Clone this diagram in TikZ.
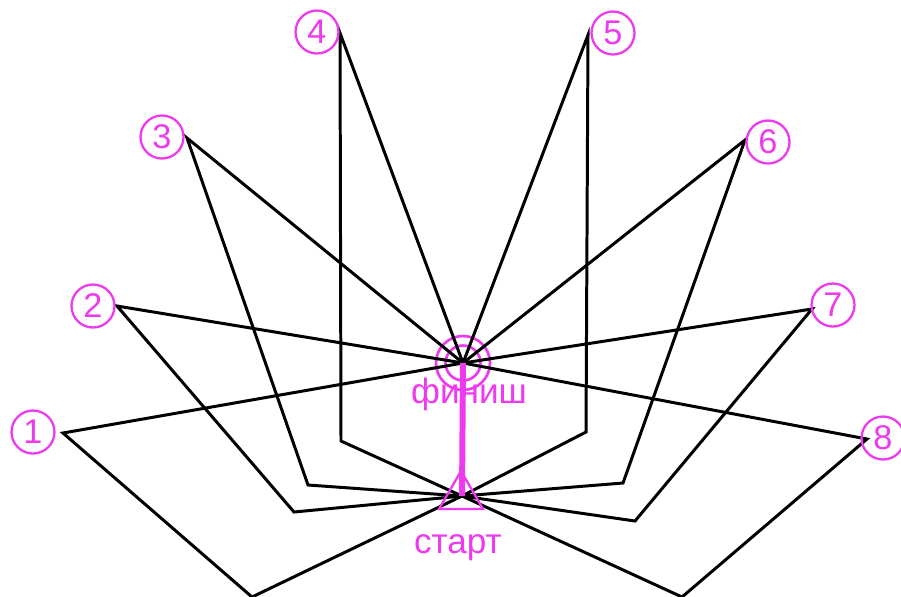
\documentclass[tikz,border=0pt]{standalone}
\usepackage{fontspec}
\setmainfont{Liberation Sans}
\definecolor{mag}{RGB}{238,58,238}
\tikzset{
  route/.style={line width=1.7pt, black, line join=miter},
  numb/.style={circle, draw=mag, line width=1.3pt, text=mag, minimum size=0.86cm, inner sep=0pt, font=\fontsize{19.5}{19.5}\selectfont},
  ring/.style={circle, draw=mag, line width=1.5pt, inner sep=0pt},
  lbl/.style={text=mag, inner sep=0pt, anchor=base, font=\fontsize{20}{20}\selectfont},
  rod/.style={mag, line width=3.4pt},
}

\begin{document}
\begin{tikzpicture}[x=0.02cm, y=-0.02cm]
  \useasboundingbox (0,0) rectangle (901,596);

  % start and finish
  \coordinate (start) at (462,496);
  \node[ring, minimum size=1.08cm] (finish) at (463,363) {};
  \node[ring, minimum size=0.7cm] (finishin) at (finish.center) {};

  % turning points and far points of each leg
  \foreach \i/\tx/\ty/\px/\py in {1/252/597/63/433, 2/294/512/117/306, 3/308/485/187/138, 4/341/441/340/33,
                                  5/586/432/588/35, 6/623/483/745/140, 7/635/521/812/309, 8/682/597/867/439}{
    \coordinate (t\i) at (\tx,\ty);
    \coordinate (p\i) at (\px,\py);
  }

  \foreach \i in {1,...,8}
    \draw[route] (start) -- (t\i) -- (p\i) -- (finish.center);

  % checkpoints
  \foreach \i/\x/\y in {1/33/432, 2/93/306, 3/162/137, 4/317/32, 5/613/33, 6/768/142, 7/833/305, 8/883/438}
    \node[numb] (n\i) at (\x,\y) {\i};

  \draw[rod] (finish.center) -- (start);
  \draw[mag, line width=1.3pt] (start) ++(-1,-25) -- ++(22,38) -- ++(-44,0) -- cycle;

  \node[lbl] (finlbl) at (469,403) {финиш};
  \node[lbl] (stlbl) at (458,553) {старт};
\end{tikzpicture}
\end{document}
